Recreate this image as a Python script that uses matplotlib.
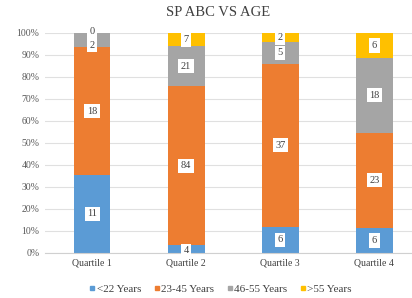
import matplotlib
matplotlib.use("Agg")
import matplotlib.pyplot as plt
import numpy as np
from matplotlib.lines import Line2D

categories = ["Quartile 1", "Quartile 2", "Quartile 3", "Quartile 4"]
series_names = ["<22 Years", "23-45 Years", "46-55 Years", ">55 Years"]
lt22 = [11, 4, 6, 6]
y23_45 = [18, 84, 37, 23]
y46_55 = [2, 21, 5, 18]
gt55 = [0, 7, 2, 6]
colors = ["#5B9BD5", "#ED7D31", "#A5A5A5", "#FFC000"]
yticklabels = ["0%", "10%", "20%", "30%", "40%", "50%", "60%", "70%", "80%", "90%", "100%"]

plt.rcParams['font.family'] = ['Liberation Serif', 'DejaVu Serif']

fig = plt.figure(figsize=(4.12, 2.98), dpi=100)
ax = fig.add_axes([45/412, 1-253/298, 367/412, 220/298])

data = np.array([lt22, y23_45, y46_55, gt55], dtype=float)
totals = data.sum(axis=0)
pct = data / totals * 100
x = np.arange(len(categories))
bottom = np.zeros(len(categories))
for i, name in enumerate(series_names):
    ax.bar(x, pct[i], 0.39, bottom=bottom, color=colors[i], zorder=2, label=name)
    for j in range(len(categories)):
        yc = bottom[j] + pct[i][j] / 2
        # small segments near the top: nudge labels apart like the reference
        if j == 0 and i == 3:
            yc = 100.5
        elif j == 0 and i == 2:
            yc = 94.5
        elif j == 1 and i == 0:
            yc = 1.0
        ax.text(x[j], yc, str(int(data[i][j])), ha='center', va='center', fontsize=7.5,
                color='#404040', zorder=3, clip_on=False,
                bbox=dict(boxstyle='square,pad=0.25', fc='white', ec='none'))
    bottom += pct[i]

ax.set_xlim(-0.5, 3.4)
ax.set_ylim(0, 100)
ax.set_yticks(np.arange(0, 101, 10))
ax.set_yticklabels(yticklabels, fontsize=7, color='#595959')
ax.set_xticks(x)
ax.set_xticklabels(categories, fontsize=7, color='#404040')
ax.tick_params(length=0, pad=4)
ax.grid(axis='y', color='#E0E0E0', linewidth=0.8, zorder=0)
for s in ['top', 'right', 'left']:
    ax.spines[s].set_visible(False)
ax.spines['bottom'].set_color('#D0D0D0')

fig.text(0.53, 1-13/298, "SP ABC VS AGE", ha='center', va='center', fontsize=10.5, color='#404040')

handles = [Line2D([0], [0], marker='s', linestyle='none', markersize=3.5, markerfacecolor=c,
                  markeredgecolor=c) for c in colors]
fig.legend(handles, series_names, loc='center', bbox_to_anchor=(0.535, 1-289/298), ncol=4,
           frameon=False, fontsize=8, handletextpad=0.1, handlelength=0.6,
           columnspacing=1.1, labelcolor='#404040')

fig.savefig("out.png", dpi=100)
